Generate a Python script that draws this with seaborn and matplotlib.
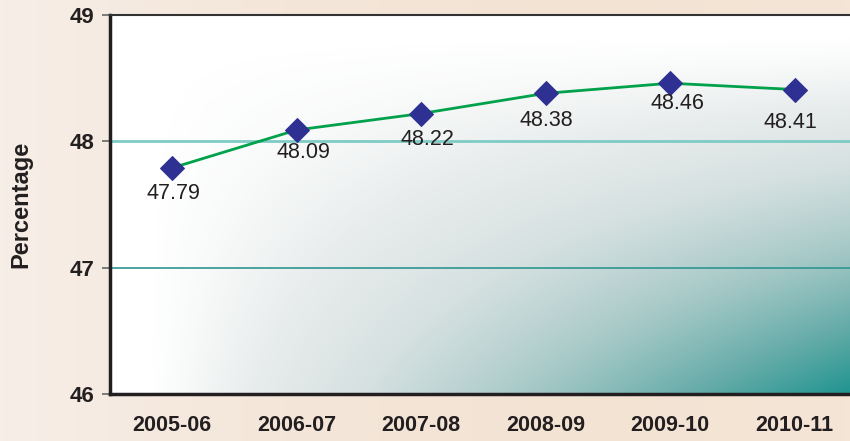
import numpy as np
import pandas as pd
import matplotlib
matplotlib.use("Agg")
import matplotlib.pyplot as plt
from matplotlib.colors import LinearSegmentedColormap
import seaborn as sns

years = ["2005-06", "2006-07", "2007-08", "2008-09", "2009-10", "2010-11"]
values = [47.79, 48.09, 48.22, 48.38, 48.46, 48.41]
yticks = [46, 47, 48, 49]
# label offsets in pixels (dx, dy below point)
lab_dx = [1, 7, 6, 1, 7, -4]
lab_dy = [26, 23, 26, 27, 20, 33]

sns.set_theme(style="white")
plt.rcParams["font.family"] = ["Liberation Sans", "DejaVu Sans"]

fig = plt.figure(figsize=(8.5, 4.41), dpi=100)
fig.patch.set_facecolor("#F4E5D7")

# background warm gradient
bg = fig.add_axes([0, 0, 1, 1], zorder=-10)
bgcmap = LinearSegmentedColormap.from_list("bg", ["#F7EEE7", "#F4E6D9", "#F3E3D3", "#F4E5D6"])
gx = np.linspace(0, 1, 200)[None, :]
bg.imshow(np.repeat(gx, 2, axis=0), cmap=bgcmap, aspect="auto", extent=[0, 1, 0, 1])
bg.set_axis_off()

ax = fig.add_axes([110 / 850, 47 / 441, 747 / 850, 379 / 441])

# plot area shading (white -> grey -> teal toward bottom right)
u = np.linspace(0, 1, 400)[None, :]
v = np.linspace(1, 0, 300)[:, None]
shade = np.clip((u - 0.05) / 0.95, 0, 1) ** 1.1 * np.clip((0.95 - v) / 0.95, 0, 1) ** 1.3
pcmap = LinearSegmentedColormap.from_list(
    "plot", [(0, "#FFFFFF"), (0.12, "#E8ECEC"), (0.27, "#D5E0E0"),
             (0.5, "#A6C9C7"), (0.75, "#66ACA9"), (1.0, "#1E938F")])
ax.imshow(shade, cmap=pcmap, vmin=0, vmax=1, aspect="auto",
          extent=[0, 1, 0, 1], transform=ax.transAxes, zorder=0)

df = pd.DataFrame({"year": years, "pct": values})
ax.axhline(48, color="#7FCBC6", lw=2, zorder=1)
ax.axhline(47, color="#2E9590", lw=1.2, zorder=1)
sns.lineplot(data=df, x="year", y="pct", ax=ax, color="#00A14B", lw=2,
             marker="D", markersize=12, markerfacecolor="#2E3192",
             markeredgecolor="#2E3192", zorder=3)

for i, val in enumerate(values):
    ax.annotate("{:.2f}".format(val), xy=(i, val), xytext=(lab_dx[i] * 0.72, -lab_dy[i] * 0.72),
                textcoords="offset points", ha="center", va="center",
                fontsize=15.5, color="#231F20", zorder=4)

ax.set_xlim(-0.5, 5.5)
ax.set_ylim(46, 49)
ax.set_yticks(yticks)
ax.set_yticklabels([str(t) for t in yticks], fontsize=16, fontweight="bold", color="#231F20")
ax.set_xticks(range(len(years)))
ax.set_xticklabels(years, fontsize=15.5, fontweight="bold", color="#231F20")
ax.set_xticks(np.arange(-0.5, 6, 1), minor=True)
ax.tick_params(axis="x", which="major", length=0, pad=15)
ax.tick_params(axis="x", which="minor", length=6, width=1.2, color="#666666", direction="out")
ax.tick_params(axis="y", which="major", length=6, width=1.2, color="#666666", direction="out", pad=5, left=True)
ax.set_xlabel("")
ax.set_ylabel("Percentage", fontsize=17, fontweight="bold", color="#231F20")
ax.yaxis.set_label_coords(-0.104, 0.5)

for s in ["left", "bottom"]:
    ax.spines[s].set_color("#231F20")
    ax.spines[s].set_linewidth(2.5)
ax.spines["top"].set_color("#333333")
ax.spines["top"].set_linewidth(1.5)
ax.spines["right"].set_visible(False)

fig.savefig("out.png", dpi=100, facecolor=fig.get_facecolor())
